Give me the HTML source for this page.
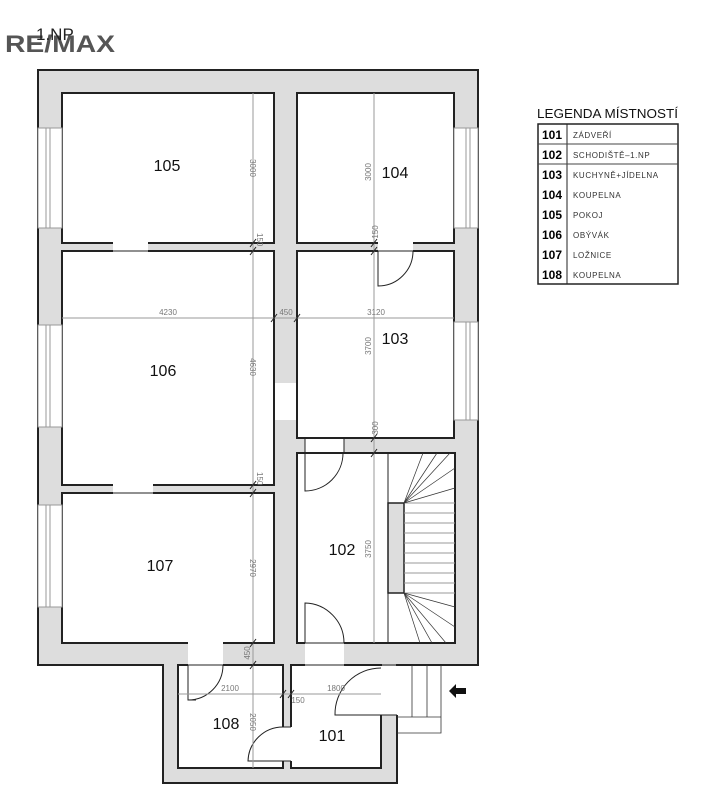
<!DOCTYPE html>
<html><head><meta charset="utf-8"><style>
html,body{margin:0;padding:0;background:#fff}
svg{display:block}
text{font-family:"Liberation Sans","DejaVu Sans",sans-serif}
</style></head><body>
<svg width="707" height="805" viewBox="0 0 707 805" xmlns="http://www.w3.org/2000/svg">
<text x="5" y="52" font-size="24" font-weight="bold" fill="#555" textLength="110" lengthAdjust="spacingAndGlyphs">RE/MAX</text>
<text x="36" y="40" font-size="17" fill="#222">1.NP</text>

<!-- building -->
<polygon points="38,70 478,70 478,665 397,665 397,783 163,783 163,665 38,665" fill="#ddd" stroke="#222" stroke-width="2"/>
<g fill="#fff" stroke="#222" stroke-width="2">
<rect x="62" y="93" width="212" height="150"/>
<rect x="297" y="93" width="157" height="150"/>
<rect x="62" y="251" width="212" height="234"/>
<rect x="62" y="493" width="212" height="150"/>
<rect x="297" y="251" width="157" height="187"/>
<rect x="297" y="453" width="158" height="190"/>
<rect x="178" y="665" width="105" height="103"/>
<rect x="291" y="665" width="90" height="103"/>
</g>
<!-- openings -->
<g fill="#fff">
<rect x="113" y="242" width="35" height="10"/>
<rect x="113" y="484" width="40" height="10"/>
<rect x="378" y="242" width="35" height="10"/>
<rect x="275" y="383" width="21" height="37"/>
<rect x="305" y="439" width="39" height="13"/>
<rect x="305" y="642" width="39" height="24"/>
<rect x="188" y="642" width="35" height="24"/>
<rect x="380" y="666" width="18" height="49"/>
<rect x="282" y="727" width="10" height="34"/>
</g>
<g stroke="#222" stroke-width="1" fill="none">
<line x1="113" y1="251" x2="148" y2="251"/>
<line x1="113" y1="493" x2="153" y2="493"/>
<line x1="378" y1="251" x2="413" y2="251"/>
<line x1="188" y1="665" x2="223" y2="665"/>
<line x1="305" y1="665" x2="344" y2="665"/>
<line x1="305" y1="643" x2="344" y2="643"/>
<line x1="344" y1="438" x2="344" y2="453"/>
<line x1="305" y1="438" x2="305" y2="453"/>
<line x1="381" y1="665" x2="397" y2="665"/>
<line x1="381" y1="715" x2="397" y2="715"/>
<line x1="283" y1="727" x2="291" y2="727"/>
<line x1="283" y1="761" x2="291" y2="761"/>
</g>
<!-- windows -->
<g fill="#fff" stroke="#999" stroke-width="1">
<rect x="38" y="128" width="24" height="100"/>
<rect x="38" y="325" width="24" height="102"/>
<rect x="38" y="505" width="24" height="102"/>
<rect x="454" y="128" width="24" height="100"/>
<rect x="454" y="322" width="24" height="98"/>
<line x1="46" y1="128" x2="46" y2="228"/><line x1="50" y1="128" x2="50" y2="228"/>
<line x1="46" y1="325" x2="46" y2="427"/><line x1="50" y1="325" x2="50" y2="427"/>
<line x1="46" y1="505" x2="46" y2="607"/><line x1="50" y1="505" x2="50" y2="607"/>
<line x1="466" y1="128" x2="466" y2="228"/><line x1="470" y1="128" x2="470" y2="228"/>
<line x1="466" y1="322" x2="466" y2="420"/><line x1="470" y1="322" x2="470" y2="420"/>
</g>
<!-- doors -->
<g stroke="#222" stroke-width="1" fill="none">
<path d="M378,251 L378,286 A35,35 0 0 0 413,251"/>
<path d="M305,453 L305,491 A38,38 0 0 0 343,453"/>
<path d="M305,643 L305,603 A40,40 0 0 1 344,643"/>
<path d="M188,665 L188,700 L196,700 M188,700 A35,35 0 0 0 223,665"/>
<path d="M283,761 L248,761 A35,35 0 0 1 283,727"/>
<path d="M381,715 L335,715 A46,46 0 0 1 381,668"/>
</g>
<!-- stairs -->
<g stroke="#222" stroke-width="1" fill="none">
<line x1="388" y1="453" x2="388" y2="643"/>
<rect x="388" y="503" width="16" height="90" fill="#ddd" stroke-width="1.5"/>
</g>
<g stroke="#999" stroke-width="1">
<line x1="404" y1="503" x2="455" y2="503"/><line x1="404" y1="513" x2="455" y2="513"/><line x1="404" y1="523" x2="455" y2="523"/><line x1="404" y1="533" x2="455" y2="533"/><line x1="404" y1="543" x2="455" y2="543"/><line x1="404" y1="553" x2="455" y2="553"/><line x1="404" y1="563" x2="455" y2="563"/><line x1="404" y1="573" x2="455" y2="573"/><line x1="404" y1="583" x2="455" y2="583"/><line x1="404" y1="593" x2="455" y2="593"/>
</g>
<g stroke="#333" stroke-width="0.7">
<line x1="404" y1="503" x2="455" y2="488"/><line x1="404" y1="503" x2="455" y2="468"/><line x1="404" y1="503" x2="450" y2="453"/><line x1="404" y1="503" x2="437" y2="453"/><line x1="404" y1="503" x2="423" y2="453"/>
<line x1="404" y1="593" x2="455" y2="607"/><line x1="404" y1="593" x2="455" y2="627"/><line x1="404" y1="593" x2="446" y2="643"/><line x1="404" y1="593" x2="432" y2="643"/><line x1="404" y1="593" x2="420" y2="643"/>
</g>
<!-- exterior steps -->
<g stroke="#333" stroke-width="0.8" fill="none">
<polyline points="397,733 441,733 441,665"/>
<line x1="412" y1="665" x2="412" y2="717"/><line x1="427" y1="665" x2="427" y2="717"/>
<line x1="397" y1="717" x2="441" y2="717"/>
</g>
<polygon points="449,691 456,684 456,688 466,688 466,694 456,694 456,698" fill="#111"/>
<!-- dimensions -->
<g stroke="#999" stroke-width="1">
<line x1="253" y1="93" x2="253" y2="768"/>
<line x1="374" y1="93" x2="374" y2="643"/>
<line x1="62" y1="318" x2="454" y2="318"/>
<line x1="178" y1="694" x2="381" y2="694"/>
</g>
<g stroke="#222" stroke-width="1">
<line x1="250" y1="247" x2="256" y2="239"/><line x1="250" y1="255" x2="256" y2="247"/>
<line x1="250" y1="489" x2="256" y2="481"/><line x1="250" y1="497" x2="256" y2="489"/>
<line x1="250" y1="647" x2="256" y2="639"/><line x1="250" y1="669" x2="256" y2="661"/>
<line x1="371" y1="247" x2="377" y2="239"/><line x1="371" y1="255" x2="377" y2="247"/>
<line x1="371" y1="442" x2="377" y2="434"/><line x1="371" y1="457" x2="377" y2="449"/>
<line x1="271" y1="322" x2="277" y2="314"/><line x1="294" y1="322" x2="300" y2="314"/>
<line x1="280" y1="698" x2="286" y2="690"/><line x1="288" y1="698" x2="294" y2="690"/>
</g>
<g font-size="8" fill="#777">
<text transform="translate(250,168) rotate(90)" text-anchor="middle">3000</text>
<text transform="translate(257,233) rotate(90)">150</text>
<text transform="translate(250,367) rotate(90)" text-anchor="middle">4630</text>
<text transform="translate(257,472) rotate(90)">150</text>
<text transform="translate(250,568) rotate(90)" text-anchor="middle">2970</text>
<text transform="translate(250,653) rotate(-90)" text-anchor="middle">450</text>
<text transform="translate(250,722) rotate(90)" text-anchor="middle">2050</text>
<text transform="translate(371,172) rotate(-90)" text-anchor="middle">3000</text>
<text transform="translate(378,232) rotate(-90)" text-anchor="middle">150</text>
<text transform="translate(371,346) rotate(-90)" text-anchor="middle">3700</text>
<text transform="translate(378,428) rotate(-90)" text-anchor="middle">300</text>
<text transform="translate(371,549) rotate(-90)" text-anchor="middle">3750</text>
<text x="168" y="315" text-anchor="middle">4230</text>
<text x="286" y="315" text-anchor="middle">450</text>
<text x="376" y="315" text-anchor="middle">3120</text>
<text x="230" y="691" text-anchor="middle">2100</text>
<text x="298" y="703" text-anchor="middle">150</text>
<text x="336" y="691" text-anchor="middle">1800</text>
</g>
<!-- room labels -->
<g font-size="16" fill="#111" text-anchor="middle">
<text x="167" y="171">105</text>
<text x="395" y="178">104</text>
<text x="163" y="376">106</text>
<text x="395" y="344">103</text>
<text x="160" y="571">107</text>
<text x="342" y="555">102</text>
<text x="226" y="729">108</text>
<text x="332" y="741">101</text>
</g>
<!-- legend -->
<text x="537" y="118" font-size="13" fill="#111" textLength="141" lengthAdjust="spacingAndGlyphs">LEGENDA MÍSTNOSTÍ</text>
<rect x="538" y="124" width="140" height="160" fill="none" stroke="#222" stroke-width="1.5"/>
<line x1="567" y1="124" x2="567" y2="284" stroke="#222" stroke-width="1"/>
<line x1="538" y1="144" x2="678" y2="144" stroke="#444" stroke-width="1"/>
<line x1="538" y1="164" x2="678" y2="164" stroke="#444" stroke-width="1"/>
<g font-size="12" fill="#000" text-anchor="middle" font-weight="bold">
<text x="552" y="139">101</text><text x="552" y="159">102</text><text x="552" y="179">103</text><text x="552" y="199">104</text>
<text x="552" y="219">105</text><text x="552" y="239">106</text><text x="552" y="259">107</text><text x="552" y="279">108</text>
</g>
<g font-size="8" fill="#333" letter-spacing="0.6">
<text x="573" y="138">ZÁDVEŘÍ</text><text x="573" y="158">SCHODIŠTĚ–1.NP</text><text x="573" y="178">KUCHYNĚ+JÍDELNA</text><text x="573" y="198">KOUPELNA</text>
<text x="573" y="218">POKOJ</text><text x="573" y="238">OBÝVÁK</text><text x="573" y="258">LOŽNICE</text><text x="573" y="278">KOUPELNA</text>
</g>
</svg>
</body></html>
